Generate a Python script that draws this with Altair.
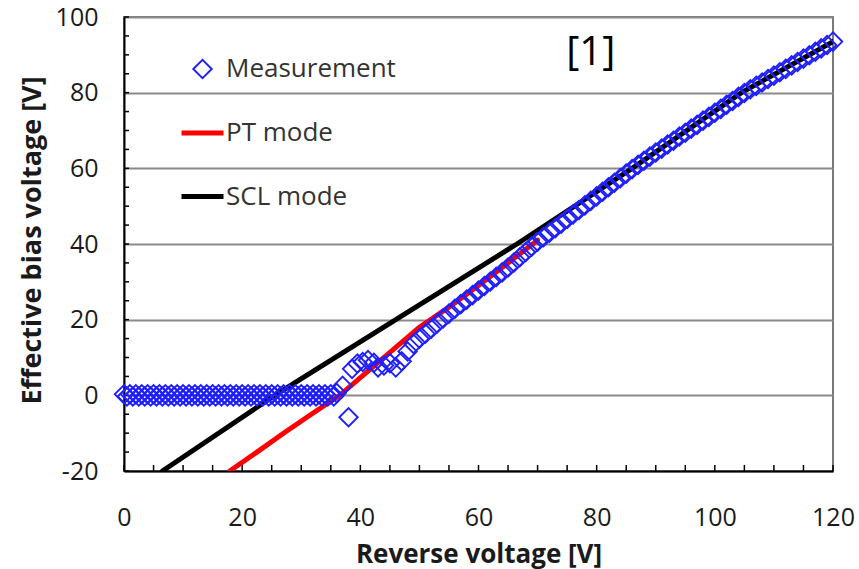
import altair as alt
import pandas as pd

# ---- series names -------------------------------------------------------
SERIES = ["Measurement", "PT mode", "SCL mode"]
SERIES_COLORS = ["#1f1fff", "#ff0000", "#000000"]

# ---- measurement: effective bias voltage [V] vs reverse voltage [V] -----
# flat part below depletion (half-volt steps)
flat_x = [
    0, 0.5, 1, 1.5, 2, 2.5, 3, 3.5, 4, 4.5, 5, 5.5, 6, 6.5, 7, 7.5, 8, 8.5,
    9, 9.5, 10, 10.5, 11, 11.5, 12, 12.5, 13, 13.5, 14, 14.5, 15, 15.5, 16,
    16.5, 17, 17.5, 18, 18.5, 19, 19.5, 20, 20.5, 21, 21.5, 22, 22.5, 23,
    23.5, 24, 24.5, 25, 25.5, 26, 26.5, 27, 27.5, 28, 28.5, 29, 29.5, 30,
    30.5, 31, 31.5, 32, 32.5, 33, 33.5, 34, 34.5, 35, 35.5, 36,
]
flat_y = [
    0.3, -0.3, 0.3, -0.3, 0.3, -0.3, 0.3, -0.3, 0.3, -0.3, 0.3, -0.3, 0.3,
    -0.3, 0.3, -0.3, 0.3, -0.3, 0.3, -0.3, 0.3, -0.3, 0.3, -0.3, 0.3, -0.3,
    0.3, -0.3, 0.3, -0.3, 0.3, -0.3, 0.3, -0.3, 0.3, -0.3, 0.3, -0.3, 0.3,
    -0.3, 0.3, -0.3, 0.3, -0.3, 0.3, -0.3, 0.3, -0.3, 0.3, -0.3, 0.3, -0.3,
    0.3, -0.3, 0.3, -0.3, 0.3, -0.3, 0.3, -0.3, 0.3, -0.3, 0.3, -0.3, 0.3,
    -0.3, 0.3, -0.3, 0.3, -0.3, 0.3, -0.3, 0.6,
]
# rising part above depletion
rise_x = [
    37, 38, 38.6, 39.5, 40.4, 41.3, 42.3, 43, 44, 45, 46, 47, 48, 49, 50, 51, 52,
    53, 54, 55, 56, 57, 58, 59, 60, 61, 62, 63, 64, 65, 66, 67, 68, 69, 70,
    71, 72, 73, 74, 75, 76, 77, 78, 79, 80, 81, 82, 83, 84, 85, 86, 87, 88,
    89, 90, 91, 92, 93, 94, 95, 96, 97, 98, 99, 100, 101, 102, 103, 104, 105,
    106, 107, 108, 109, 110, 111, 112, 113, 114, 115, 116, 117, 118, 119, 120,
]
rise_y = [
    2.5, -5.8, 7.0, 8.4, 8.8, 9.3, 8.6, 7.4, 7.9, 8.5, 7.4, 9.0, 11.6, 13.6, 15.0, 16.3, 17.6,
    19.0, 20.3, 21.6, 22.9, 24.1, 25.3, 26.5, 27.7, 28.9, 30.1, 31.3, 32.5, 33.8,
    35.1, 36.5, 37.9, 39.3, 40.6,
    41.8, 43.0, 44.2, 45.4, 46.6, 47.8, 49.0, 50.2, 51.4, 52.6, 53.8, 55.0, 56.2,
    57.4, 58.6, 59.8, 60.9, 62.0,
    63.1, 64.2, 65.2, 66.3, 67.3, 68.4, 69.4, 70.5, 71.5, 72.6, 73.6, 74.7, 75.7,
    76.8, 77.8, 78.9, 79.9,
    80.9, 81.8, 82.7, 83.6, 84.5, 85.4, 86.3, 87.2, 88.1, 89.0, 89.9, 90.8, 91.7,
    92.6, 93.5,
]

# ---- punch-through (PT) mode model ---------------------------------------
pt_x = [17.9, 22.5, 27.0, 31.7, 36.5, 41.0, 45.5, 50.0, 55.0, 60.0, 65.0, 70.0]
pt_y = [-20.0, -15.0, -10.0, -5.0, 0.0, 6.0, 12.0, 18.0, 23.3, 29.0, 35.0, 41.0]

# ---- space-charge-limited (SCL) mode model -------------------------------
scl_x = [6.5, 25.5, 46.0, 66.5, 86.0, 104.5, 120.0]
scl_y = [-20.0, 0.0, 20.0, 40.0, 60.0, 80.0, 93.5]

# ---- axes ---------------------------------------------------------------
x_labels = [0, 20, 40, 60, 80, 100, 120]
y_labels = [-20, 0, 20, 40, 60, 80, 100]
x_minor = list(range(0, 121, 5))
y_minor = list(range(-20, 101, 5))

ref_label = ["[1]"]

FONT = "Open Sans"

meas = pd.DataFrame({"v": flat_x + rise_x, "e": flat_y + rise_y, "series": SERIES[0]})
pt = pd.DataFrame({"v": pt_x, "e": pt_y, "series": SERIES[1]})
scl = pd.DataFrame({"v": scl_x, "e": scl_y, "series": SERIES[2]})

x_enc = alt.X(
    "v:Q",
    scale=alt.Scale(domain=[0, 120], nice=False, zero=False),
    axis=alt.Axis(
        values=x_labels, grid=False, ticks=False, labelFlush=False,
        labelPadding=34, labelFont=FONT, labelFontSize=25, labelColor="#1a1a1a",
        domainColor="#000000", domainWidth=2,
        title="Reverse voltage [V]", titleFont=FONT, titleFontSize=26,
        titleFontWeight="bold", titleColor="#1a1a1a", titleBaseline="alphabetic",
        titleY=91,
    ),
)
y_enc = alt.Y(
    "e:Q",
    scale=alt.Scale(domain=[-20, 100], nice=False, zero=False),
    axis=alt.Axis(
        values=y_labels, grid=True, gridColor="#8a8a8a", gridWidth=2,
        ticks=False, labelFlush=False, labelPadding=26, labelFont=FONT,
        labelFontSize=25, labelColor="#1a1a1a", labelExpr="replace(datum.label, '\u2212', '-')",
        domainColor="#000000", domainWidth=2,
        title="Effective bias voltage  [V]", titleFont=FONT, titleFontSize=27,
        titleFontWeight="bold", titleColor="#1a1a1a", titleBaseline="alphabetic",
        titleAngle=270, titleX=-84, titleY=223,
    ),
)

legend = alt.Legend(
    title=None, orient="none", legendX=55, legendY=39,
    labelFont=FONT, labelFontSize=26, labelColor="#333333", labelOffset=0,
    rowPadding=26.5, labelLimit=400,
)

color = alt.Color("series:N", scale=alt.Scale(domain=SERIES, range=SERIES_COLORS), legend=legend)
shape = alt.Shape("series:N", scale=alt.Scale(domain=SERIES, range=["diamond", "stroke", "stroke"]), legend=legend)
size = alt.Size("series:N", scale=alt.Scale(type="ordinal", domain=SERIES, range=[340, 1764, 1764]), legend=legend)
width = alt.StrokeWidth("series:N", scale=alt.Scale(type="ordinal", domain=SERIES, range=[1.9, 5, 5]), legend=legend)

pt_line = alt.Chart(pt).mark_line(strokeCap="round", strokeWidth=5, clip=True).encode(
    x=x_enc, y=y_enc, color=color
)
scl_line = alt.Chart(scl).mark_line(strokeCap="round", strokeWidth=5, clip=True).encode(
    x=x_enc, y=y_enc, color=color
)
points = alt.Chart(meas).mark_point(filled=False, opacity=1).encode(
    x=x_enc, y=y_enc, color=color, shape=shape, size=size, strokeWidth=width
)

# inward minor ticks on both axes
x_ticks = alt.Chart(pd.DataFrame({"v": x_minor})).mark_rule(color="#000000", strokeWidth=1.5).encode(
    x="v:Q", y=alt.datum(-20), y2=alt.datum(-18.4)
)
y_ticks = alt.Chart(pd.DataFrame({"e": y_minor})).mark_rule(color="#000000", strokeWidth=1.5).encode(
    y="e:Q", x=alt.datum(0), x2=alt.datum(0.85)
)

ref = alt.Chart(pd.DataFrame({"t": ref_label})).mark_text(
    font=FONT, fontSize=40, color="#000000", align="center", baseline="middle"
).encode(x=alt.datum(79), y=alt.datum(90.5), text="t:N")

chart = (
    alt.layer(x_ticks, y_ticks, pt_line, scl_line, points, ref)
    .properties(
        width=709, height=454,
        autosize=alt.AutoSizeParams(type="none"),
        padding={"left": 124, "top": 17, "right": 26, "bottom": 98},
        background="#ffffff",
    )
    .configure_view(stroke="#7a7a7a", strokeWidth=2)
)

chart.save("out.html", embed_options={"renderer": "svg", "actions": False})
